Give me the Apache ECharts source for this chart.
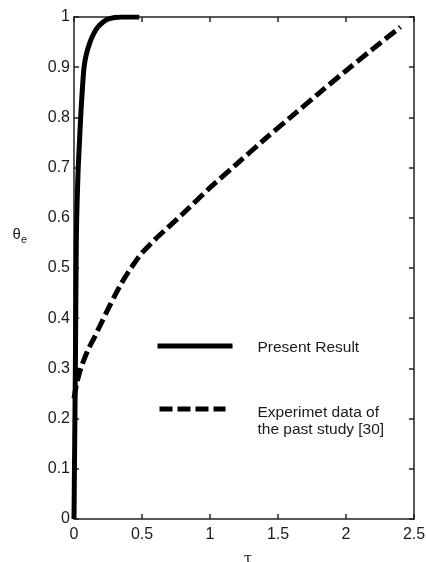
<!DOCTYPE html>
<html>
<head>
<meta charset="utf-8">
<script src="https://cdn.jsdelivr.net/npm/echarts@6/dist/echarts.min.js"></script>
<style>
  html, body { margin: 0; padding: 0; background: #fff; }
  #chart { width: 426px; height: 562px; }
</style>
</head>
<body>
<div id="chart"></div>
<script>
// Dimensionless time tau and emitter temperature theta_e
const presentTau = [0, 0.005, 0.01, 0.014, 0.017, 0.02, 0.025, 0.031, 0.04, 0.049, 0.06, 0.074, 0.09, 0.118, 0.145, 0.176, 0.21, 0.243, 0.3, 0.35, 0.48];
const presentTheta = [0, 0.15, 0.3, 0.45, 0.55, 0.6, 0.65, 0.7, 0.75, 0.8, 0.85, 0.9, 0.925, 0.95, 0.967, 0.98, 0.989, 0.995, 0.999, 1.0, 1.0];

const pastTau = [0, 0.02, 0.05, 0.1, 0.15, 0.2, 0.25, 0.3, 0.35, 0.4, 0.45, 0.5, 0.6, 0.7, 0.8, 1.0, 1.2, 1.4, 1.6, 1.8, 2.0, 2.2, 2.4];
const pastTheta = [0.24, 0.27, 0.3, 0.335, 0.362, 0.39, 0.418, 0.445, 0.47, 0.492, 0.512, 0.53, 0.558, 0.583, 0.608, 0.66, 0.708, 0.756, 0.802, 0.848, 0.893, 0.937, 0.98];

const xTicks = { min: 0, max: 2.5, interval: 0.5 };
const yTicks = { min: 0, max: 1, interval: 0.1 };

const seriesNames = ['Present Result', 'Experimet data of\nthe past study [30]'];

const zip = (xs, ys) => xs.map((x, i) => [x, ys[i]]);

const axisColor = '#222';
const sans = 'Liberation Sans, Arial, sans-serif';
const labelFont = { color: '#1a1a1a', fontSize: 16, fontFamily: sans };

function boxAxis(cfg, position, showLabel, margin, extra) {
  return Object.assign({
    type: 'value',
    position: position,
    min: cfg.min, max: cfg.max, interval: cfg.interval,
    axisLine: { show: true, onZero: false, lineStyle: { color: axisColor, width: 1.5 } },
    axisTick: { show: true, inside: true, length: 5, lineStyle: { color: axisColor, width: 1.5 } },
    axisLabel: Object.assign({ show: showLabel, margin: margin }, labelFont),
    splitLine: { show: false }
  }, extra || {});
}

const chart = echarts.init(document.getElementById('chart'), null, { renderer: 'canvas' });

chart.setOption({
  backgroundColor: '#fff',
  animation: false,
  grid: { left: 74, right: 12, top: 17, bottom: 43, containLabel: false, outerBoundsMode: 'none' },
  xAxis: [
    boxAxis(xTicks, 'bottom', true, 8, {
      name: 'τ', nameLocation: 'middle', nameGap: 33,
      nameTextStyle: { color: '#1a1a1a', fontSize: 15, fontFamily: 'DejaVu Serif, serif', padding: [0, 0, 0, 8] }
    }),
    boxAxis(xTicks, 'top', false, 8)
  ],
  yAxis: [
    boxAxis(yTicks, 'left', true, 4, {
      name: '{t|θ}{s|e}', nameLocation: 'middle', nameRotate: 0, nameGap: 47,
      nameTextStyle: {
        padding: [0, 0, 66, 0],
        rich: {
          t: { color: '#1a1a1a', fontSize: 15, fontFamily: sans },
          s: { color: '#1a1a1a', fontSize: 11, fontFamily: sans, padding: [10, 0, 0, 0] }
        }
      }
    }),
    boxAxis(yTicks, 'right', false, 4)
  ],
  series: [
    {
      name: seriesNames[0],
      type: 'line',
      xAxisIndex: 0, yAxisIndex: 0,
      data: zip(presentTau, presentTheta),
      showSymbol: false,
      smooth: 0.3,
      lineStyle: { color: '#000', width: 5 }
    },
    {
      name: seriesNames[1],
      type: 'line',
      xAxisIndex: 0, yAxisIndex: 0,
      data: zip(pastTau, pastTheta),
      showSymbol: false,
      smooth: 0.3,
      lineStyle: { color: '#000', width: 5, type: [13, 5] }
    }
  ],
  graphic: [
    {
      type: 'group', left: 155, top: 340,
      children: [
        { type: 'line', shape: { x1: 0, y1: 13, x2: 75, y2: 13 }, style: { stroke: '#000', lineWidth: 5 } },
        { type: 'text', x: 100, y: 15, style: { text: seriesNames[0], fill: '#1a1a1a', fontSize: 15.5, fontFamily: sans, verticalAlign: 'middle' } },
        { type: 'line', shape: { x1: 2, y1: 76, x2: 68, y2: 76 }, style: { stroke: '#000', lineWidth: 5, lineDash: [13, 5] } },
        { type: 'text', x: 100, y: 71, style: { text: seriesNames[1], fill: '#1a1a1a', fontSize: 15.5, lineHeight: 17, fontFamily: sans, verticalAlign: 'top' } }
      ]
    }
  ]
});
</script>
</body>
</html>
